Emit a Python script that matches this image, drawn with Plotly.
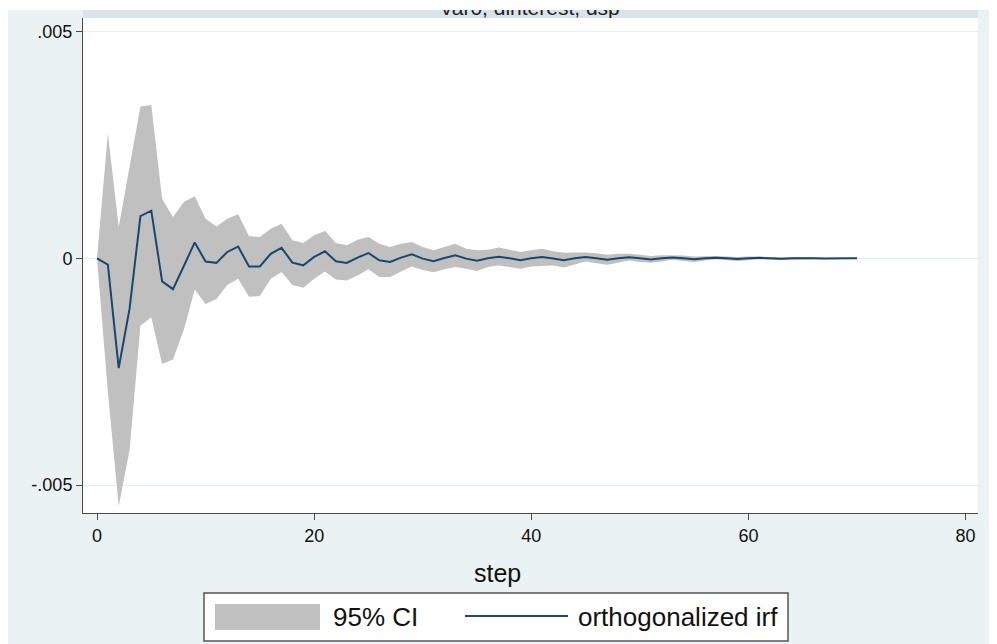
import plotly.graph_objects as go

# ---------------- data ----------------
steps = list(range(71))

irf = [
    0.0, -0.00014, -0.00242, -0.00111, 0.00093, 0.00105, -0.00051, -0.00068, -0.00017, 0.00035,
    -0.00007, -0.00010, 0.00014, 0.00026, -0.00018, -0.00018, 0.00010, 0.00023, -0.000095, -0.000154,
    0.00003, 0.000154, -0.000066, -0.000103, 0.000015, 0.000117, -0.000044, -0.000081, 0.000015, 0.000088,
    -0.000007, -0.000066, 0.000007, 0.000066, -0.000007, -0.000051, 0.0, 0.000037, 0.0, -0.000044,
    0.0, 0.00003, -0.000003, -0.00004, 0.0, 0.00003, 0.0, -0.000032, 0.0, 0.000024,
    0.0, -0.000025, 0.0, 0.000018, 0.0, -0.000018, 0.0, 0.000013, 0.0, -0.000013,
    0.0, 0.00001, 0.0, -0.000009, 0.0, 0.000007, 0.0, -0.000006, 0.0, 0.000004,
    0.0,
]

ci_upper = [
    0.0, 0.00275, 0.00069, 0.00205, 0.00335, 0.00338, 0.00131, 0.00091, 0.00124, 0.00137,
    0.00087, 0.00070, 0.00087, 0.00097, 0.00049, 0.00047, 0.00065, 0.00076, 0.00040, 0.00034,
    0.00051, 0.00060, 0.00034, 0.00029, 0.00041, 0.00047, 0.00032, 0.00025, 0.00032, 0.00036,
    0.00025, 0.00018, 0.00025, 0.00032, 0.00021, 0.00018, 0.00019, 0.00024, 0.00019, 0.00014,
    0.00018, 0.00021, 0.000155, 0.00012, 0.00013, 0.00013, 0.00011, 0.00008, 0.00010, 0.00010,
    0.00008, 0.00005, 0.00007, 0.00007, 0.00006, 0.00004, 0.00005, 0.00005, 0.00004, 0.00003,
    0.00004, 0.00004, 0.00003, 0.00002, 0.00003, 0.00003, 0.00002, 0.00001, 0.00002, 0.00002,
    0.00001,
]

ci_lower = [
    0.0, -0.00295, -0.00546, -0.00423, -0.00149, -0.00130, -0.00233, -0.00223, -0.00157, -0.00069,
    -0.00101, -0.00090, -0.00059, -0.00045, -0.00085, -0.00083, -0.00045, -0.00030, -0.00059, -0.00065,
    -0.00045, -0.00029, -0.00047, -0.00049, -0.00038, -0.00024, -0.00041, -0.00041, -0.00029, -0.00018,
    -0.00026, -0.00031, -0.00024, -0.00019, -0.00023, -0.00028, -0.00019, -0.00016, -0.00019, -0.00023,
    -0.00018, -0.00017, -0.00016, -0.00020, -0.00013, -0.00007, -0.00011, -0.00014, -0.00010, -0.00005,
    -0.00008, -0.00010, -0.00007, -0.00003, -0.00006, -0.00008, -0.00005, -0.00002, -0.00004, -0.00006,
    -0.00004, -0.00002, -0.00003, -0.00004, -0.00003, -0.00002, -0.00002, -0.00002, -0.00002, -0.00001,
    -0.00001,
]

y_tickvals = [-0.005, 0, 0.005]
y_ticktext = ["-.005", "0", ".005"]
x_tickvals = [0, 20, 40, 60, 80]
x_ticktext = ["0", "20", "40", "60", "80"]

subtitle = "var0, dinterest, dsp"
x_title = "step"
legend_labels = ["95% CI", "orthogonalized irf"]

# ---------------- layout geometry ----------------
# The page body has an 8px margin, so the figure starts at screen (8, 8).
OFF = 8
W, H = 989, 636
ML, MR, MT, MB = 75, 19, 2, 131
PW, PH = W - ML - MR, H - MT - MB


def px(screen_x):
    return (screen_x - OFF - ML) / PW


def py(screen_y):
    return (H - MB - (screen_y - OFF)) / PH


FONT = "Liberation Sans, Arial, Helvetica, sans-serif"
OUTER = "#eaf2f3"
BAND = "#d9e4e8"
GRID = "#e6eff1"
AXIS = "#4a4a4a"
NAVY = "#1a476f"
GRAY = "#c0c0c0"

main_top = py(18)

fig = go.Figure()

fig.add_trace(go.Scatter(
    x=steps, y=ci_upper, mode="lines", line=dict(width=0, color=GRAY),
    hoverinfo="skip", showlegend=False, name="upper",
))
fig.add_trace(go.Scatter(
    x=steps, y=ci_lower, mode="lines", line=dict(width=0, color=GRAY),
    fill="tonexty", fillcolor=GRAY, showlegend=False, name=legend_labels[0],
))
fig.add_trace(go.Scatter(
    x=steps, y=irf, mode="lines", line=dict(width=2, color=NAVY),
    showlegend=False, name=legend_labels[1],
))

# subtitle in the title band, clipped by the band's subplot area (as in the reference)
fig.add_trace(go.Scatter(
    x=[0.5], y=[1.0], mode="text", text=[subtitle],
    textfont=dict(family=FONT, size=21, color="#222222"),
    textposition="middle center", xaxis="x2", yaxis="y2",
    cliponaxis=True, hoverinfo="skip", showlegend=False,
))

shapes = [
    # outer graph background
    dict(type="rect", xref="paper", yref="paper", x0=px(8), x1=px(OFF + W), y0=py(OFF + H), y1=py(10),
         fillcolor=OUTER, line=dict(width=0), layer="below"),
    # plot region
    dict(type="rect", xref="paper", yref="paper", x0=px(83), x1=px(978), y0=py(513), y1=py(18),
         fillcolor="white", line=dict(width=0), layer="below"),
    # subtitle band
    dict(type="rect", xref="paper", yref="paper", x0=px(83), x1=px(978), y0=py(18), y1=py(10),
         fillcolor=BAND, line=dict(width=0), layer="below"),
    # legend box
    dict(type="rect", xref="paper", yref="paper", x0=px(204), x1=px(788), y0=py(641), y1=py(593),
         fillcolor="white", line=dict(width=1.5, color="#555555"), layer="below"),
    # legend CI swatch
    dict(type="rect", xref="paper", yref="paper", x0=px(215), x1=px(320), y0=py(630), y1=py(604),
         fillcolor=GRAY, line=dict(width=0), layer="above"),
    # legend line sample
    dict(type="line", xref="paper", yref="paper", x0=px(465), x1=px(568), y0=py(616), y1=py(616),
         line=dict(width=2, color=NAVY), layer="above"),
]

annotations = [
    dict(text=x_title, xref="paper", yref="paper", x=px(497), y=py(573),
         xanchor="center", yanchor="middle", showarrow=False,
         font=dict(family=FONT, size=25, color="#111111")),
    dict(text=legend_labels[0], xref="paper", yref="paper", x=px(331), y=py(617),
         xanchor="left", yanchor="middle", showarrow=False,
         font=dict(family=FONT, size=26, color="#111111")),
    dict(text=legend_labels[1], xref="paper", yref="paper", x=px(576), y=py(617),
         xanchor="left", yanchor="middle", showarrow=False,
         font=dict(family=FONT, size=26, color="#111111")),
]

fig.update_layout(
    width=W, height=H,
    margin=dict(l=ML, r=MR, t=MT, b=MB, pad=0),
    paper_bgcolor="white",
    plot_bgcolor="white",
    showlegend=False,
    font=dict(family=FONT, size=18, color="#111111"),
    shapes=shapes,
    annotations=annotations,
    xaxis=dict(
        domain=[0, 1], anchor="y",
        range=[-1.2894, 81.142],
        tickmode="array", tickvals=x_tickvals, ticktext=x_ticktext,
        ticks="outside", ticklen=6, tickwidth=1, tickcolor=AXIS,
        showline=True, linecolor=AXIS, linewidth=1,
        showgrid=False, zeroline=False,
        tickfont=dict(family=FONT, size=18, color="#111111"),
    ),
    yaxis=dict(
        domain=[0, main_top], anchor="x",
        range=[-0.005617, 0.0053],
        tickmode="array", tickvals=y_tickvals, ticktext=y_ticktext,
        ticks="outside", ticklen=6, tickwidth=1, tickcolor=AXIS,
        showline=True, linecolor=AXIS, linewidth=1,
        showgrid=True, gridcolor=GRID, gridwidth=1, zeroline=False,
        tickfont=dict(family=FONT, size=18, color="#111111"),
    ),
    xaxis2=dict(domain=[0, 1], anchor="y2", range=[0, 1], visible=False, fixedrange=True),
    yaxis2=dict(domain=[main_top, 1], anchor="x2", range=[0, 1], visible=False, fixedrange=True),
)

fig.write_html("out.html")
